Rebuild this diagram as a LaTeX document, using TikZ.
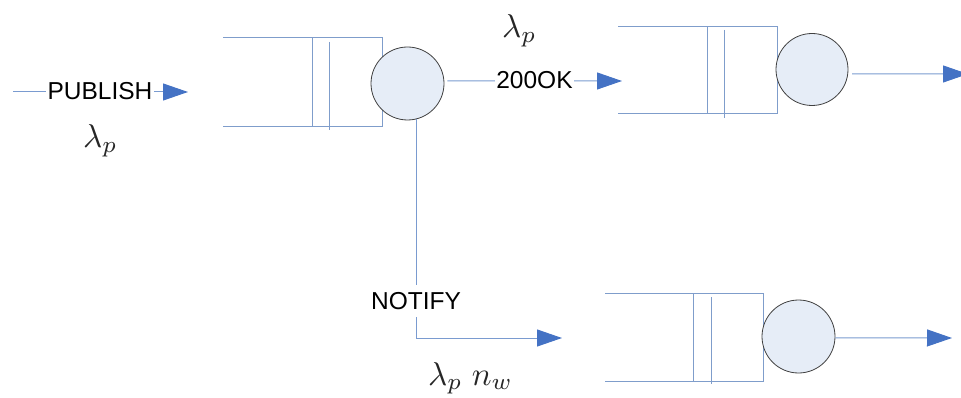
\documentclass[tikz,border=0pt]{standalone}
\usepackage{fontspec}
\usepackage{graphicx}
\newfontfamily\arialf{Liberation Sans}
\usetikzlibrary{arrows.meta}
\definecolor{qline}{HTML}{7F9DCB}
\definecolor{aline}{HTML}{7A9BD0}
\definecolor{ahead}{HTML}{4472C4}
\definecolor{cfill}{HTML}{E6EDF7}
\definecolor{cdraw}{HTML}{404040}
\newcommand{\bigrate}[1]{\scalebox{3.3}{$#1$}}
\tikzset{
  qln/.style={draw=qline,line width=1pt},
  conn/.style={draw=aline,line width=1pt,-{Triangle[length=25pt,width=17pt,color=ahead]}},
  server/.style={circle,draw=cdraw,fill=cfill,line width=0.8pt,minimum size=73pt,inner sep=0pt},
  lbl/.style={font=\arialf\fontsize{24.5}{28}\selectfont,fill=white,inner xsep=1.5pt,inner ysep=2pt,text=black},
  rate/.style={anchor=base west,inner sep=0pt,text=black!85},
}
\begin{document}
\begin{tikzpicture}[x=1pt,y=-1pt]
\useasboundingbox (0,0) rectangle (961,398);
% queue 1
\draw[qln] (223,38) -- (382,38) -- (382,127) -- (223,127);
\draw[qln] (312,38) -- (312,127);
\draw[qln] (329,42) -- (329,130);
% queue 2
\draw[qln] (618,27) -- (777,27) -- (777,114) -- (618,114);
\draw[qln] (707,27) -- (707,114);
\draw[qln] (724,30) -- (724,118);
% queue 3
\draw[qln] (605,293) -- (763,293) -- (763,381) -- (605,381);
\draw[qln] (693,293) -- (693,381);
\draw[qln] (711,297) -- (711,384);
% servers
\node[server] (s1) at (407.5,83.5) {};
\node[server,minimum size=72pt] (s2) at (812,69.5) {};
\node[server] (s3) at (798.5,336.5) {};
% connectors
\coordinate (pubstart) at (13,92);
\coordinate (pubend) at (188,92);
\draw[conn] (pubstart) -- (pubend);
\node[lbl] (pub) at (100,91) {PUBLISH};
\coordinate (okend) at (622,81);
\draw[conn,shorten <=3pt] (s1.4) -- (okend);
\node[lbl] (ok) at (534.5,80.5) {200OK};
\coordinate (ntend) at (562,338);
\draw[conn] (s1.-76.5) |- (ntend);
\node[lbl,inner ysep=7pt] (nt) at (416,301) {NOTIFY};
\coordinate (o2end) at (968,74);
\draw[conn,shorten <=4pt] (s2.-7) -- (o2end);
\coordinate (o3end) at (952,338);
\draw[conn] (s3.-2.4) -- (o3end);
% rates
\node[rate] (r1) at (83,148) {\bigrate{\lambda_p}};
\node[rate] (r2) at (502,38) {\bigrate{\lambda_p}};
\node[rate] (r3) at (428,385) {\bigrate{\lambda_p\;n_w}};
\end{tikzpicture}
\end{document}
